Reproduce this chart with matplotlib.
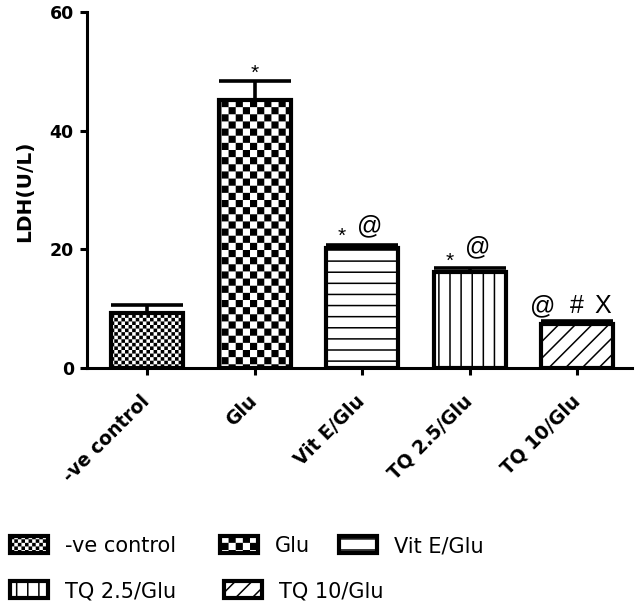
import numpy as np
import matplotlib
matplotlib.use("Agg")
import matplotlib.pyplot as plt
import matplotlib.hatch as mhatch
from matplotlib.path import Path

# ---------------- data ----------------
categories = ["-ve control", "Glu", "Vit E/Glu", "TQ 2.5/Glu", "TQ 10/Glu"]
values = [9.2, 45.1, 20.2, 16.2, 7.5]
errors = [1.5, 3.3, 0.6, 0.6, 0.4]
yticks = [0, 20, 40, 60]
ylabel = "LDH(U/L)"
hatches = ["f", "c", "h", "v", "//"]
# significance marks: (bar index, text, dx px, dy px above error cap, fontsize)
marks = [
    (1, "*", 0, 2, 15),
    (2, "*", -20, 3, 15), (2, "@", 8, 11, 18),
    (3, "*", -20, 1, 15), (3, "@", 8, 14, 18),
    (4, "@", -34, 8, 18), (4, "#", 0, 8, 18), (4, "X", 26, 8, 18),
]
# legend layout: (category index, patch left px, row centre px)
legend_slots = [(0, 8, 546), (1, 218, 546), (2, 337, 546),
                (3, 8, 591), (4, 222, 591)]

# ---------------- custom hatch patterns (GraphPad-like) ----------------
HLW = 1.1
plt.rcParams["hatch.linewidth"] = HLW
_shrink = HLW / 72.0  # stroke width in hatch-tile units


class _Checker(mhatch.HatchPatternBase):
    char = None
    ncell = 0

    def __init__(self, hatch, density):
        self.on = self.char in hatch
        self.num_vertices = (self.ncell * self.ncell // 2) * 5 if self.on else 0

    def set_vertices_and_codes(self, vertices, codes):
        n = self.ncell
        s = 1.0 / n
        m = _shrink / 2
        k = 0
        for i in range(n):
            for j in range(n):
                if (i + j) % 2:
                    continue
                x0, y0 = i * s + m, j * s + m
                x1, y1 = (i + 1) * s - m, (j + 1) * s - m
                vertices[k:k + 5] = [(x0, y0), (x1, y0), (x1, y1), (x0, y1), (x0, y0)]
                codes[k:k + 5] = [Path.MOVETO, Path.LINETO, Path.LINETO,
                                  Path.LINETO, Path.CLOSEPOLY]
                k += 5


class FineChecker(_Checker):
    char = "f"
    ncell = 28


class CoarseChecker(_Checker):
    char = "c"
    ncell = 14


class _Lines(mhatch.HatchPatternBase):
    char = None
    nlines = 9
    horizontal = True

    def __init__(self, hatch, density):
        self.on = self.char in hatch
        self.num_vertices = self.nlines * 2 if self.on else 0

    def set_vertices_and_codes(self, vertices, codes):
        steps = (np.arange(self.nlines) + 0.5) / self.nlines
        if self.horizontal:
            vertices[0::2, 0] = 0.0
            vertices[0::2, 1] = steps
            vertices[1::2, 0] = 1.0
            vertices[1::2, 1] = steps
        else:
            vertices[0::2, 0] = steps
            vertices[0::2, 1] = 0.0
            vertices[1::2, 0] = steps
            vertices[1::2, 1] = 1.0
        codes[0::2] = Path.MOVETO
        codes[1::2] = Path.LINETO


class HLines(_Lines):
    char = "h"
    horizontal = True


class VLines(_Lines):
    char = "v"
    horizontal = False


mhatch._hatch_types.extend([FineChecker, CoarseChecker, HLines, VLines])
mhatch._validate_hatch_pattern = lambda hatch: None

# ---------------- figure ----------------
plt.rcParams["font.family"] = ["Liberation Sans", "DejaVu Sans"]
WIDE = ["DejaVu Sans", "Liberation Sans"]

W, H = 641, 612
fig = plt.figure(figsize=(W / 100, H / 100), dpi=100)
ax = fig.add_axes([87 / W, 1 - 368 / H, (632 - 87) / W, (368 - 12) / H])

x = np.arange(len(categories))
for i in range(len(categories)):
    ax.bar(x[i], values[i], width=0.67, color="white", edgecolor="black",
           linewidth=3.0, hatch=hatches[i], label=categories[i], zorder=2)

ax.errorbar(x, values, yerr=[np.zeros(len(errors)), errors], fmt="none",
            ecolor="black", elinewidth=2.6, capsize=26, capthick=2.6, zorder=3)

for idx, txt, dx, dy, fs in marks:
    ax.annotate(txt, xy=(x[idx], values[idx] + errors[idx]),
                xytext=(dx * 0.72, dy * 0.72), textcoords="offset points",
                ha="center", va="baseline", fontsize=fs, color="black")

ax.set_xlim(-0.558, 4.51)
ax.set_ylim(0, 60)
ax.set_yticks(yticks)
ax.set_yticklabels([str(t) for t in yticks], fontsize=12.5, fontweight="bold",
                   family=WIDE)
ax.set_xticks(x)
ax.set_xticklabels(categories, rotation=45, ha="right", va="center",
                   rotation_mode="anchor", fontsize=13.5, fontweight="bold",
                   family=WIDE)
ax.tick_params(axis="y", direction="out", length=5, width=2.2, pad=4.5)
ax.tick_params(axis="x", direction="out", length=5, width=2.2, pad=17)
for s in ["top", "right"]:
    ax.spines[s].set_visible(False)
for s in ["left", "bottom"]:
    ax.spines[s].set_linewidth(2.2)
ax.set_ylabel(ylabel, fontsize=14.5, fontweight="bold", family=WIDE, va="center")
ax.yaxis.set_label_coords(-(87 - 25) / (632 - 87), (368 - 191) / (368 - 12))

handles, labels = ax.get_legend_handles_labels()
LFS = 15
lfs_px = LFS / 72 * 100
for idx, left, yc in legend_slots:
    fig.legend([handles[idx]], [labels[idx]], loc="center left",
               bbox_to_anchor=((left + 2) / W, 1 - yc / H),
               frameon=False, prop={"family": WIDE, "size": LFS},
               handlelength=38 / lfs_px, handleheight=18 / lfs_px,
               handletextpad=17 / lfs_px, borderpad=0, borderaxespad=0)

fig.savefig("out.png", dpi=100)
